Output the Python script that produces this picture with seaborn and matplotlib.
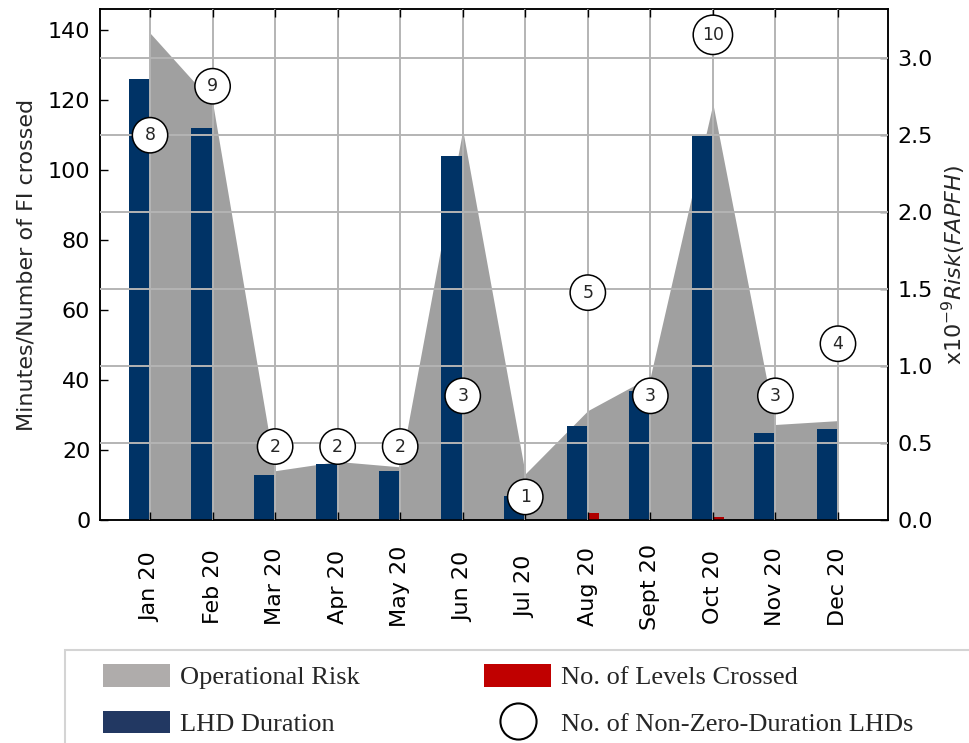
import numpy as np
import pandas as pd
import matplotlib.pyplot as plt
import seaborn as sns
from matplotlib.patches import Patch, Rectangle
from matplotlib.lines import Line2D
from matplotlib.ticker import FixedLocator

# data
months = ["Jan 20", "Feb 20", "Mar 20", "Apr 20", "May 20", "Jun 20",
          "Jul 20", "Aug 20", "Sept 20", "Oct 20", "Nov 20", "Dec 20"]
lhd_duration = [126, 112, 13, 16, 14, 104, 7, 27, 37, 110, 25, 26]
levels_crossed = [0, 0, 0, 0, 0, 0, 0, 2, 0, 1, 0, 0]
operational_risk = [3.16, 2.71, 0.32, 0.38, 0.345, 2.53, 0.30, 0.71, 0.93, 2.70, 0.62, 0.645]
lhd_count = [8, 9, 2, 2, 2, 3, 1, 5, 3, 10, 3, 4]
count_label_y = [110, 124, 21, 21, 21, 35.5, 6.6, 65, 35.5, 138.7, 35.5, 50.4]

sns.set_style("white")
plt.rcParams["font.family"] = ["DejaVu Sans"]

pos = np.arange(len(months))
df = pd.DataFrame({"pos": pos, "duration": lhd_duration,
                   "levels": levels_crossed, "risk": operational_risk})

fig = plt.figure(figsize=(9.69, 7.43), dpi=100)
ax1 = fig.add_axes([0.1032, 0.3001, 0.8132, 0.6874])
ax2 = ax1.twinx()
ax1.set_zorder(ax2.get_zorder() + 1)
ax1.patch.set_visible(False)

# operational risk area (right axis)
ax2.fill_between(df["pos"], 0, df["risk"], color="#a0a0a0", lw=0)

# bars (left axis)
bar_w = 0.34
red_w = 0.18
sns.barplot(x=df["pos"] - bar_w / 2, y=df["duration"], native_scale=True,
            width=bar_w, color="#003366", saturation=1, errorbar=None,
            linewidth=0, ax=ax1)
sns.barplot(x=df["pos"] + red_w / 2, y=df["levels"], native_scale=True,
            width=red_w, color="#b00000", saturation=1, errorbar=None,
            linewidth=0, ax=ax1)

# circled counts
for i, (n, yy) in enumerate(zip(lhd_count, count_label_y)):
    ax1.text(pos[i], yy, str(n), ha="center", va="center", fontsize=12.5,
             bbox=dict(boxstyle="circle,pad=0.5", fc="white", ec="black", lw=1.1),
             zorder=5)

ylim1 = 146
ylim2 = 3.314
ax1.set_xlim(-0.8, 11.8)
ax1.set_ylim(0, ylim1)
ax2.set_ylim(0, ylim2)

right_ticks = np.arange(0, 3.01, 0.5)
ax2.set_yticks(right_ticks)
ax2.set_yticklabels([f"{t:.1f}" for t in right_ticks])
ax1.set_yticks(np.arange(0, 141, 20))

# grid on top of bars, horizontal lines follow the right axis
ax1.set_axisbelow(False)
ax1.yaxis.set_minor_locator(FixedLocator(right_ticks * ylim1 / ylim2))
ax1.grid(True, which="major", axis="x", color="#b4b4b4", lw=1.4)
ax1.grid(True, which="minor", axis="y", color="#b4b4b4", lw=1.4)
ax2.grid(False)

ax1.set_xticks(pos)
ax1.set_xticklabels(months, rotation=90, va="center")
ax1.set_xlabel("")
ax1.tick_params(axis="x", direction="in", length=6, width=1, colors="black",
                labelsize=16, pad=48, top=True, bottom=True)
ax1.tick_params(axis="y", which="major", direction="in", length=6, width=1,
                colors="black", labelsize=16, pad=7, left=True, right=False)
ax1.tick_params(axis="y", which="minor", length=0)
ax2.tick_params(axis="y", direction="in", length=6, width=1, colors="black",
                labelsize=16, pad=7, right=True, left=False)

for ax in (ax1, ax2):
    for sp in ax.spines.values():
        sp.set_color("black")
        sp.set_linewidth(1.1)

ax1.set_ylabel("Minutes/Number of FI crossed", fontsize=16, labelpad=8)
ax2.set_ylabel(r"x10$^{-9}Risk(FAPFH)$", fontsize=16, labelpad=5)

# legend box
fig.add_artist(Rectangle((65 / 969, -0.1), 1.0, 0.1 + (1 - 650 / 743),
                         transform=fig.transFigure, fill=False,
                         ec="#d4d4d4", lw=1.5))
handles = [
    Patch(facecolor="#afacab", edgecolor="none", label="Operational Risk"),
    Patch(facecolor="#223862", edgecolor="none", label="LHD Duration"),
    Patch(facecolor="#c00000", edgecolor="none", label="No. of Levels Crossed"),
    Line2D([], [], marker="o", ls="none", mfc="white", mec="black", ms=26,
           mew=1.5, label="No. of Non-Zero-Duration LHDs"),
]
fig.legend(handles=handles, loc="upper left", bbox_to_anchor=(103 / 969, 1 - 664 / 743),
           ncol=2, frameon=False, prop={"family": "Liberation Serif", "size": 19},
           handlelength=2.55, handleheight=0.95, handletextpad=0.38,
           columnspacing=4.7, labelspacing=0.8, borderpad=0, borderaxespad=0)

fig.savefig("out.png", dpi=100)
